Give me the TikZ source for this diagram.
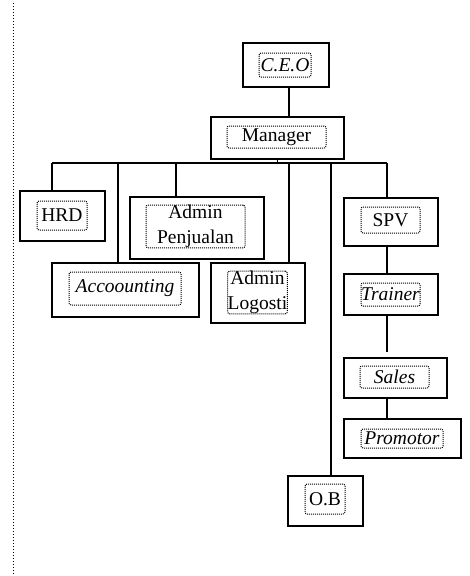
\documentclass[tikz,border=0pt]{standalone}
\usepackage{fontspec}
\setmainfont{Liberation Serif}
\begin{document}
\begin{tikzpicture}[x=1pt,y=-1pt,
  obox/.style={draw, line width=1.3pt, inner sep=0pt, minimum width=#1},
  tbox/.style={draw, line width=1pt, dash pattern=on 1pt off 1pt, rounded corners=2pt,
     inner sep=0pt, align=center, font=\fontsize{19.5}{25}\selectfont, minimum width=#1},
  conn/.style={line width=1.2pt}]
\useasboundingbox (0,0) rectangle (470,576);
\draw[line width=1pt, dash pattern=on 1pt off 2pt] (13,3) -- (13,576);

% outer boxes
\node[obox=86, minimum height=44] (ceo) at (286,65) {};
\node[obox=133, minimum height=42] (mgr) at (277.5,138) {};
\node[obox=85, minimum height=50] (hrd) at (62.5,216) {};
\node[obox=134, minimum height=62] (apj) at (197,228) {};
\node[obox=147, minimum height=54] (acc) at (125.5,290) {};
\node[obox=94, minimum height=60] (alg) at (258,293) {};
\node[obox=94, minimum height=48] (spv) at (391,222) {};
\node[obox=94, minimum height=41] (trn) at (391,294.5) {};
\node[obox=103, minimum height=40] (sls) at (395.5,378) {};
\node[obox=117, minimum height=39] (prm) at (402.5,438.5) {};
\node[obox=75, minimum height=50] (ob) at (325.5,501) {};

% inner labelled dotted boxes
\node[tbox=52, minimum height=24] (ceo-t) at (285,65) {\itshape C.E.O};
\node[tbox=99, minimum height=22] (mgr-t) at (276.5,137) {Manager};
\node[tbox=50, minimum height=29] (hrd-t) at (62,215.5) {HRD};
\node[tbox=99, minimum height=41] (apj-t) at (195.5,226.5) {Admin\\Penjualan};
\node[tbox=112, minimum height=33] (acc-t) at (125,288.5) {\itshape Accoounting};
\node[tbox=59, minimum height=41] (alg-t) at (257.5,292.5) {Admin\\Logosti};
\node[tbox=59, minimum height=26] (spv-t) at (390.5,220) {SPV};
\node[tbox=59, minimum height=23] (trn-t) at (390.5,294.5) {\itshape Trainer};
\node[tbox=69, minimum height=22] (sls-t) at (394.5,377) {\itshape Sales};
\node[tbox=82, minimum height=19] (prm-t) at (402,438.5) {\itshape Promotor};
\node[tbox=40, minimum height=30] (ob-t) at (325,499) {O.B};

% connector columns
\coordinate (cm) at (289,0);
\coordinate (bL) at (52,163);
\coordinate (bR) at (387,163);
\coordinate (dAcc) at (118,163);
\coordinate (dApj) at (176,163);
\coordinate (dAlg) at (289,163);
\coordinate (dOb) at (331,163);
\coordinate (cs) at (387,352);

\draw[conn] (ceo.south -| cm) -- (mgr.north -| cm);
\draw[conn] (mgr.south) -- (mgr.south |- bL);
\draw[conn] (bL) -- (bR);
\draw[conn] (bL) -- (hrd.north -| bL);
\draw[conn] (dAcc) -- (acc.north -| dAcc);
\draw[conn] (dApj) -- (apj.north -| dApj);
\draw[conn] (dAlg) -- (alg.north -| dAlg);
\draw[conn] (dOb) -- (ob.north -| dOb);
\draw[conn] (bR) -- (spv.north -| bR);
\draw[conn] (spv.south -| cs) -- (trn.north -| cs);
\draw[conn] (trn.south -| cs) -- (cs);
\draw[conn] (sls.south -| cs) -- (prm.north -| cs);
\end{tikzpicture}
\end{document}
